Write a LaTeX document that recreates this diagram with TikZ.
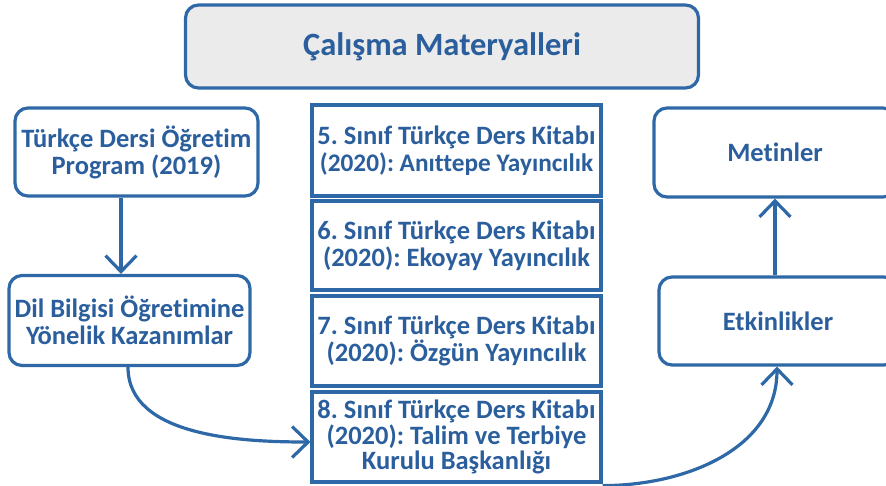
\documentclass[tikz,border=0pt]{standalone}
\usepackage{fontspec}
\setmainfont{Carlito}[Ligatures={NoCommon,NoRequired,NoContextual}]
\usetikzlibrary{arrows.meta}
\definecolor{ln}{RGB}{46,104,166}
\definecolor{tx}{RGB}{42,94,156}
\definecolor{gr}{RGB}{235,235,235}
\frenchspacing
\begin{document}
\begin{tikzpicture}[x=1pt,y=-1pt,
  txt/.style={text=tx,font=\bfseries\fontsize{26.5}{27}\selectfont,align=center,inner sep=0pt},
  rbox/.style={txt,draw=ln,line width=3.2pt,rounded corners=13pt,rectangle},
  sbox/.style={txt,draw=ln,line width=3.2pt,rectangle},
  conn/.style={draw=ln,line width=3.2pt,-{Straight Barb[length=16pt,width=31pt,line width=3.2pt]}}]
\useasboundingbox (0,0) rectangle (886,485);
\node[rbox,fill=gr,minimum width=513pt,minimum height=83pt,font=\bfseries\fontsize{32.5}{36}\selectfont] (title) at (442,46.5) {Çalışma Materyalleri};
\node[rbox,minimum width=243pt,minimum height=88pt] (prog) at (136.5,152) {Türkçe Dersi Öğretim\\Program (2019)};
\node[rbox,minimum width=241pt,minimum height=90pt] (kaz) at (129.5,320.5) {Dil Bilgisi Öğretimine\\Yönelik Kazanımlar};
\node[sbox,minimum width=289pt,minimum height=91pt] (k5) at (456.5,150.5) {5. Sınıf Türkçe Ders Kitabı\\{\fontsize{25.3}{27}\selectfont (2020): Anıttepe Yayıncılık}};
\node[sbox,minimum width=289pt,minimum height=89pt] (k6) at (456.5,245.5) {6. Sınıf Türkçe Ders Kitabı\\(2020): Ekoyay Yayıncılık};
\node[sbox,minimum width=289pt,minimum height=90pt] (k7) at (456.5,341) {7. Sınıf Türkçe Ders Kitabı\\(2020): Özgün Yayıncılık};
\node[sbox,minimum width=289pt,minimum height=90pt,font=\bfseries\fontsize{26.5}{25.5}\selectfont] (k8) at (456.5,437) {8. Sınıf Türkçe Ders Kitabı\\(2020): Talim ve Terbiye\\Kurulu Başkanlığı};
\node[rbox,minimum width=242pt,minimum height=89pt] (met) at (775,152.5) {Metinler};
\node[rbox,minimum width=238pt,minimum height=88pt] (etk) at (778,321) {Etkinlikler};
\coordinate (kin) at ([yshift=-5pt]k8.west);
\coordinate (kout) at ([yshift=-2pt]k8.south east);
\draw[conn] (prog.south -| 121,0) -- (kaz.north -| 121,0);
\draw[conn] (kaz.south -| 128,0) to[out=-90,in=180,looseness=0.9] (kin);
\draw[conn] (kout) to[out=0,in=-90] (etk.south -| 777,0);
\draw[conn] (etk.north -| 775,0) -- (met.south -| 775,0);
\end{tikzpicture}
\end{document}
